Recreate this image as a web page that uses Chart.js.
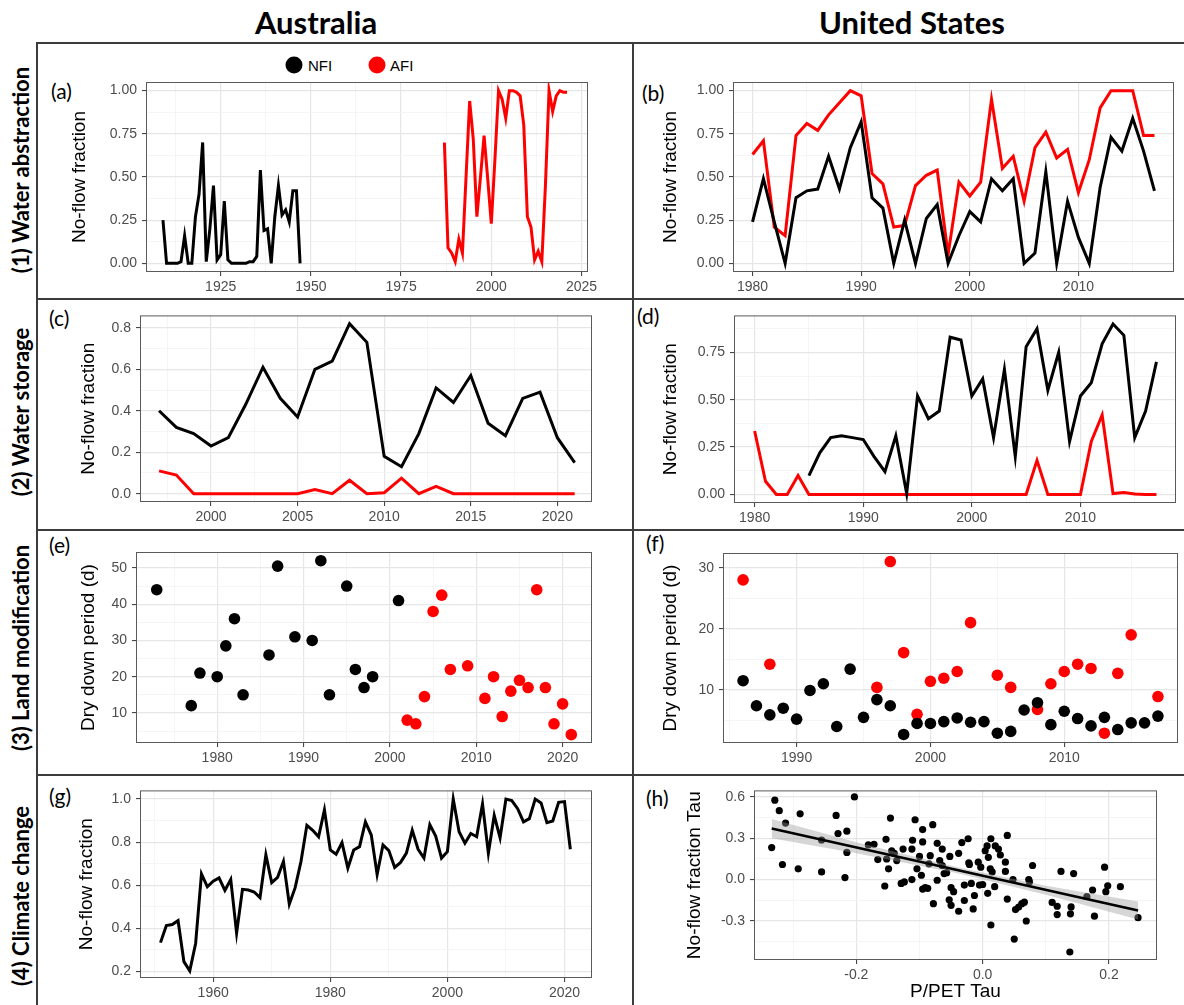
<!DOCTYPE html>
<html>
<head>
<meta charset="utf-8">
<title>No-flow fraction</title>
<script src="https://cdn.jsdelivr.net/npm/chart.js@4.4.0/dist/chart.umd.min.js"></script>
<style>
    body {
        margin: 0;
        background: #ffffff;
        width: 1184px;
        height: 1005px;
        overflow: hidden;
        position: relative;
        font-family: 'Liberation Sans', Arial, sans-serif;
    }
    .abs { position: absolute; white-space: nowrap; }
    canvas { position: absolute; }
    .col-title { font-family: Lato, 'Open Sans', sans-serif; font-weight: 700; font-size: 31px; line-height: 31px; top: 7px; transform: translateX(-50%); }
    .row-label { font-family: Lato, 'Open Sans', sans-serif; font-weight: 700; font-size: 22px; line-height: 22px; transform: translate(-50%, -50%) rotate(-90deg); }
    .tag { font-family: Lato, 'Open Sans', sans-serif; font-size: 21px; line-height: 21px; transform: translateY(-50%); }
    .rule { background: #3c3c3c; }
    .dot { width: 17px; height: 17px; border-radius: 50%; transform: translate(-50%, -50%); }
    .key { font-size: 15px; line-height: 15px; transform: translateY(-50%); }
</style>
</head>
<body>

<div class="abs col-title" style="left:316px">Australia</div>
<div class="abs col-title" style="left:912px">United States</div>

<div class="abs rule" style="left:37px;top:42px;width:1147px;height:2px"></div>
<div class="abs rule" style="left:36px;top:42px;width:2px;height:963px"></div>
<div class="abs rule" style="left:632px;top:42px;width:2px;height:963px"></div>
<div class="abs rule" style="left:37px;top:298px;width:1147px;height:2px"></div>
<div class="abs rule" style="left:37px;top:529px;width:1147px;height:2px"></div>
<div class="abs rule" style="left:37px;top:774px;width:1147px;height:2px"></div>

<div class="abs row-label" style="left:21px;top:170px">(1) Water abstraction</div>
<div class="abs row-label" style="left:21px;top:412px">(2) Water storage</div>
<div class="abs row-label" style="left:21px;top:648px">(3) Land modification</div>
<div class="abs row-label" style="left:21px;top:896px">(4) Climate change</div>

<div class="abs tag" style="left:51px;top:90px">(a)</div>
<div class="abs tag" style="left:642px;top:92px">(b)</div>
<div class="abs tag" style="left:49px;top:317px">(c)</div>
<div class="abs tag" style="left:637px;top:315px">(d)</div>
<div class="abs tag" style="left:49px;top:544px">(e)</div>
<div class="abs tag" style="left:646px;top:542px">(f)</div>
<div class="abs tag" style="left:49px;top:795px">(g)</div>
<div class="abs tag" style="left:646px;top:797px">(h)</div>

<div class="abs dot" style="left:294px;top:65px;background:#000000"></div>
<div class="abs key" style="left:308px;top:65px">NFI</div>
<div class="abs dot" style="left:377px;top:65px;background:#ff0000"></div>
<div class="abs key" style="left:390px;top:65px">AFI</div>

<script>
// couleurs des séries
const colors = {
    nfi: '#000000',
    afi: '#ff0000',
    band: 'rgba(153,153,153,0.4)',
    frame: '#5a5a5a',
    gridMajor: '#e6e6e6',
    gridMinor: '#f3f3f3',
    tick: '#4d4d4d'
};

function range(a, b) {
    const out = [];
    for (let v = a; v <= b; v++) out.push(v);
    return out;
}

// (a) Australia - water abstraction
const aYearsNFI = range(1909, 1947);
const aNFI = [0.25, 0.00, 0.00, 0.00, 0.00, 0.01, 0.16, 0.00, 0.00, 0.27,
              0.40, 0.70, 0.01, 0.20, 0.45, 0.02, 0.05, 0.36, 0.02, 0.00,
              0.00, 0.00, 0.00, 0.00, 0.01, 0.01, 0.04, 0.54, 0.19, 0.20,
              0.00, 0.27, 0.45, 0.28, 0.31, 0.24, 0.42, 0.42, 0.00];
const aYearsAFI = range(1987, 2021);
const aAFI = [0.70, 0.09, 0.06, 0.01, 0.14, 0.06, 0.50, 0.94, 0.72, 0.27,
              0.50, 0.74, 0.49, 0.23, 0.60, 1.00, 0.95, 0.84, 1.00, 1.00,
              0.99, 0.97, 0.80, 0.27, 0.21, 0.02, 0.07, 0.01, 0.45, 1.00,
              0.88, 0.97, 1.00, 0.99, 0.99];
const aXTicks = [1925, 1950, 1975, 2000, 2025];
const fracTicks = [0, 0.25, 0.5, 0.75, 1];

// (b) United States - water abstraction
const bYears = range(1980, 2017);
const bNFI = [0.24, 0.49, 0.24, 0.00, 0.38, 0.42, 0.43, 0.62, 0.43, 0.67,
              0.82, 0.38, 0.32, 0.00, 0.25, 0.00, 0.26, 0.34, 0.00, 0.16,
              0.30, 0.24, 0.49, 0.42, 0.49, 0.00, 0.06, 0.53, 0.00, 0.36,
              0.15, 0.00, 0.44, 0.73, 0.65, 0.84, 0.65, 0.42];
const bAFI = [0.63, 0.71, 0.21, 0.16, 0.74, 0.81, 0.77, 0.86, 0.93, 1.00,
              0.97, 0.52, 0.46, 0.21, 0.22, 0.45, 0.51, 0.54, 0.05, 0.47,
              0.39, 0.47, 0.95, 0.55, 0.62, 0.36, 0.67, 0.76, 0.61, 0.66,
              0.41, 0.60, 0.90, 1.00, 1.00, 1.00, 0.74, 0.74];
const usXTicks = [1980, 1990, 2000, 2010];

// (c) Australia - water storage
const cYears = range(1997, 2021);
const cNFI = [0.40, 0.32, 0.29, 0.23, 0.27, 0.43, 0.61, 0.46, 0.37, 0.60,
              0.64, 0.82, 0.73, 0.18, 0.13, 0.29, 0.51, 0.44, 0.57, 0.34,
              0.28, 0.46, 0.49, 0.27, 0.15];
const cAFI = [0.11, 0.09, 0.00, 0.00, 0.00, 0.00, 0.00, 0.00, 0.00, 0.02,
              0.00, 0.065, 0.00, 0.005, 0.075, 0.00, 0.035, 0.00, 0.00, 0.00,
              0.00, 0.00, 0.00, 0.00, 0.00];
const cXTicks = [2000, 2005, 2010, 2015, 2020];
const cYTicks = [0, 0.2, 0.4, 0.6, 0.8];

// (d) United States - water storage
const dYearsNFI = range(1985, 2017);
const dNFI = [0.10, 0.22, 0.30, 0.31, 0.30, 0.29, 0.20, 0.12, 0.31, 0.005,
              0.52, 0.40, 0.44, 0.83, 0.815, 0.52, 0.61, 0.30, 0.66, 0.20,
              0.78, 0.875, 0.55, 0.75, 0.28, 0.52, 0.59, 0.795, 0.90, 0.84,
              0.30, 0.44, 0.70];
const dYearsAFI = range(1980, 2017);
const dAFI = [0.335, 0.07, 0.00, 0.00, 0.10, 0.00, 0.00, 0.00, 0.00, 0.00,
              0.00, 0.00, 0.00, 0.00, 0.00, 0.00, 0.00, 0.00, 0.00, 0.00,
              0.00, 0.00, 0.00, 0.00, 0.00, 0.00, 0.18, 0.00, 0.00, 0.00,
              0.00, 0.28, 0.42, 0.005, 0.01, 0.003, 0.00, 0.00];
const dYTicks = [0, 0.25, 0.5, 0.75];

// (e) Australia - land modification
const eYearsNFI = [1973, 1977, 1978, 1980, 1981, 1982, 1983, 1986, 1987, 1989,
                   1991, 1992, 1993, 1995, 1996, 1997, 1998, 2001];
const eNFI = [44, 12, 21, 20, 28.5, 36, 15, 26, 50.5, 31,
              30, 52, 15, 45, 22, 17, 20, 41];
const eYearsAFI = [2002, 2003, 2004, 2005, 2006, 2007, 2009, 2011, 2012, 2013,
                   2014, 2015, 2016, 2017, 2018, 2019, 2020, 2021];
const eAFI = [8, 7, 14.5, 38, 42.5, 22, 23, 14, 20, 9,
              16, 19, 17, 44, 17, 7, 12.5, 4];
const eXTicks = [1980, 1990, 2000, 2010, 2020];
const eYTicks = [10, 20, 30, 40, 50];

// (f) United States - land modification
const fYearsNFI = range(1986, 2017);
const fNFI = [11.5, 7.4, 5.9, 7.0, 5.2, 9.9, 11.0, 4.0, 13.4, 5.5,
              8.4, 7.4, 2.7, 4.5, 4.5, 4.8, 5.4, 4.7, 4.8, 2.9,
              3.2, 6.7, 7.9, 4.3, 6.5, 5.3, 4.1, 5.5, 3.5, 4.6,
              4.6, 5.7];
const fYearsAFI = [1986, 1988, 1996, 1997, 1998, 1999, 2000, 2001, 2002, 2003,
                   2005, 2006, 2008, 2009, 2010, 2011, 2012, 2013, 2014, 2015, 2017];
const fAFI = [28.0, 14.2, 10.4, 31.0, 16.1, 6.0, 11.4, 11.9, 13.0, 21.0,
              12.4, 10.4, 6.8, 11.0, 13.0, 14.2, 13.5, 2.9, 12.7, 19.0, 8.9];
const fXTicks = [1990, 2000, 2010];
const fYTicks = [10, 20, 30];

// (g) Australia - climate change
const gYears = range(1951, 2021);
const gNFI = [0.334, 0.413, 0.418, 0.436, 0.246, 0.203, 0.330, 0.653, 0.593, 0.619,
              0.634, 0.576, 0.627, 0.378, 0.581, 0.578, 0.569, 0.543, 0.741, 0.612,
              0.637, 0.711, 0.512, 0.589, 0.711, 0.878, 0.855, 0.825, 0.950, 0.764,
              0.744, 0.798, 0.680, 0.764, 0.779, 0.894, 0.833, 0.650, 0.787, 0.761,
              0.683, 0.706, 0.749, 0.855, 0.767, 0.726, 0.881, 0.828, 0.726, 0.756,
              1.000, 0.848, 0.795, 0.840, 0.825, 0.977, 0.749, 0.924, 0.820, 1.000,
              0.993, 0.955, 0.894, 0.909, 1.000, 0.982, 0.890, 0.898, 0.985, 0.988,
              0.767];
const gXTicks = [1960, 1980, 2000, 2020];
const gYTicks = [0.2, 0.4, 0.6, 0.8, 1.0];

// (h) United States - climate change (P/PET Tau vs no-flow fraction Tau)
const hX = [-0.329, -0.322, -0.312, -0.334, -0.317, -0.289, -0.292, -0.255, -0.255, -0.232,
            -0.229, -0.215, -0.215, -0.218, -0.203, -0.181, -0.172, -0.166, -0.153, -0.146,
            -0.149, -0.152, -0.155, -0.144, -0.140, -0.136, -0.126, -0.129, -0.124, -0.112,
            -0.111, -0.107, -0.112, -0.104, -0.100, -0.095, -0.095, -0.097, -0.095, -0.091,
            -0.087, -0.085, -0.083, -0.079, -0.078, -0.072, -0.072, -0.068, -0.064, -0.064,
            -0.061, -0.057, -0.052, -0.050, -0.046, -0.053, -0.050, -0.038, -0.038, -0.033,
            -0.029, -0.029, -0.023, -0.022, -0.021, -0.015, -0.018, -0.013, -0.007, -0.005,
            -0.003, 0.000, 0.004, 0.007, 0.008, 0.009, 0.013, 0.012, 0.015, 0.013,
            0.019, 0.020, 0.025, 0.028, 0.036, 0.036, 0.039, 0.039, 0.048, 0.050,
            0.052, 0.057, 0.062, 0.066, 0.069, 0.073, 0.074, 0.079, 0.110, 0.118,
            0.118, 0.124, 0.138, 0.139, 0.140, 0.144, 0.165, 0.174, 0.177, 0.193,
            0.195, 0.198, 0.218, 0.246];
const hY = [0.576, 0.500, 0.410, 0.232, 0.109, 0.477, 0.078, 0.287, 0.055, 0.465,
            0.334, 0.351, 0.197, 0.014, 0.600, 0.251, 0.256, 0.145, 0.292, 0.446,
            0.078, 0.149, -0.047, 0.209, 0.190, 0.138, 0.221, -0.028, -0.017, 0.221,
            0.285, 0.434, 0.000, 0.078, 0.168, 0.363, 0.273, 0.031, -0.069, -0.059,
            -0.064, 0.114, 0.173, 0.398, -0.175, 0.263, -0.005, 0.138, 0.221, 0.102,
            0.043, 0.050, 0.168, -0.059, -0.088, -0.147, -0.187, -0.230, 0.190, 0.268,
            -0.040, -0.152, 0.296, 0.121, 0.109, -0.213, -0.028, -0.116, 0.126, -0.040,
            0.090, -0.036, 0.209, 0.244, -0.100, 0.161, 0.296, 0.078, 0.055, -0.330,
            -0.052, 0.244, 0.221, 0.178, 0.126, 0.059, 0.320, -0.142, 0.000, -0.432,
            -0.218, -0.200, -0.175, -0.164, -0.301, 0.000, -0.017, 0.102, -0.166, -0.194,
            -0.254, 0.059, -0.526, -0.249, -0.199, 0.043, -0.123, -0.076, -0.266, 0.090,
            -0.088, -0.045, -0.052, -0.277];
const hFitX = [-0.334, 0.246];
const hFitY = [0.370, -0.225];
const hBandX = [-0.334, -0.200, -0.040, 0.100, 0.246];
const hBandUpper = [0.440, 0.270, 0.090, -0.045, -0.160];
const hBandLower = [0.300, 0.190, 0.045, -0.110, -0.290];
const hXTicks = [-0.2, 0, 0.2];
const hYTicks = [-0.3, 0, 0.3, 0.6];

// ---------------------------------------------------------------

Chart.defaults.font.family = "'Liberation Sans', Arial, sans-serif";
Chart.defaults.font.size = 14;

function pts(xs, ys) {
    return xs.map((x, i) => ({ x: x, y: ys[i] }));
}

function lineSet(xs, ys, color, width) {
    return {
        data: pts(xs, ys),
        borderColor: color,
        borderWidth: width === undefined ? 3 : width,
        pointRadius: 0,
        fill: false,
        tension: 0
    };
}

function dotSet(xs, ys, color, r) {
    return {
        data: pts(xs, ys),
        showLine: false,
        pointRadius: r,
        pointBackgroundColor: color,
        pointBorderWidth: 0,
        borderColor: color
    };
}

// grille mineure à mi-chemin entre les graduations principales (façon ggplot)
function withMinor(major, min, max) {
    const step = major[1] - major[0];
    const out = major.filter(v => v >= min && v <= max).map(v => ({ value: v }));
    for (let v = major[0] - step / 2; v <= max; v += step) {
        if (v >= min) out.push({ value: v, minor: true });
    }
    return out.sort((a, b) => a.value - b.value);
}

const titleLine = 19 * 1.2;

function axis(ax, pos, size, titleText, titleOffset) {
    const vertical = pos === 'left';
    const isMinor = c => !!(c.tick && c.tick.minor);
    return {
        type: 'linear',
        position: pos,
        min: ax.min,
        max: ax.max,
        afterBuildTicks: s => { s.ticks = withMinor(ax.ticks, ax.min, ax.max); },
        afterFit: s => { if (vertical) s.width = size; else s.height = size; },
        ticks: {
            autoSkip: false,
            maxRotation: 0,
            padding: vertical ? 5 : 3,
            color: colors.tick,
            font: { size: 14 },
            callback: (v, i, t) => (t[i] && t[i].minor) ? '' : Number(v).toFixed(ax.dec)
        },
        grid: {
            color: c => isMinor(c) ? colors.gridMinor : colors.gridMajor,
            lineWidth: c => isMinor(c) ? 0.8 : 1.2,
            tickColor: c => isMinor(c) ? 'rgba(0,0,0,0)' : '#333333',
            tickLength: 4,
            tickWidth: 1,
            drawTicks: true
        },
        border: { display: false },
        title: titleText ? {
            display: true,
            text: titleText,
            color: '#000000',
            font: { size: 19 },
            padding: vertical ? { top: titleOffset - titleLine / 2, bottom: 0 }
                              : { top: 0, bottom: titleOffset - titleLine / 2 }
        } : { display: false }
    };
}

// cadre du panneau, dessiné au-dessus des données
const framePlugin = {
    id: 'frame',
    afterDatasetsDraw(chart) {
        const { ctx, chartArea } = chart;
        ctx.save();
        ctx.strokeStyle = colors.frame;
        ctx.lineWidth = 1;
        ctx.strokeRect(chartArea.left + 0.5, chartArea.top + 0.5,
                       chartArea.right - chartArea.left - 1, chartArea.bottom - chartArea.top - 1);
        ctx.restore();
    }
};

const panels = [
    {   // (a)
        box: [39, 45, 632, 298], area: [146, 82, 588, 272],
        x: { min: 1904.3, max: 2026.8, ticks: aXTicks, dec: 0 },
        y: { min: -0.05, max: 1.05, ticks: fracTicks, dec: 2 },
        yTitle: 'No-flow fraction', yTitleX: 80,
        datasets: [lineSet(aYearsNFI, aNFI, colors.nfi), lineSet(aYearsAFI, aAFI, colors.afi)]
    },
    {   // (b)
        box: [636, 45, 1184, 298], area: [733, 82, 1174, 272],
        x: { min: 1978.2, max: 2018.8, ticks: usXTicks, dec: 0 },
        y: { min: -0.05, max: 1.05, ticks: fracTicks, dec: 2 },
        yTitle: 'No-flow fraction', yTitleX: 671,
        datasets: [lineSet(bYears, bNFI, colors.nfi), lineSet(bYears, bAFI, colors.afi)]
    },
    {   // (c)
        box: [39, 302, 632, 528], area: [140, 312, 592, 502],
        x: { min: 1995.9, max: 2022.0, ticks: cXTicks, dec: 0 },
        y: { min: -0.04, max: 0.86, ticks: cYTicks, dec: 1 },
        yTitle: 'No-flow fraction', yTitleX: 89,
        datasets: [lineSet(cYears, cNFI, colors.nfi), lineSet(cYears, cAFI, colors.afi)]
    },
    {   // (d)
        box: [636, 302, 1184, 528], area: [734, 313, 1176, 503],
        x: { min: 1978.1, max: 2018.8, ticks: usXTicks, dec: 0 },
        y: { min: -0.045, max: 0.945, ticks: dYTicks, dec: 2 },
        yTitle: 'No-flow fraction', yTitleX: 671,
        datasets: [lineSet(dYearsNFI, dNFI, colors.nfi), lineSet(dYearsAFI, dAFI, colors.afi)]
    },
    {   // (e)
        box: [39, 532, 632, 772], area: [136, 552, 592, 743],
        x: { min: 1970.6, max: 2023.4, ticks: eXTicks, dec: 0 },
        y: { min: 1.7, max: 54.4, ticks: eYTicks, dec: 0 },
        yTitle: 'Dry down period (d)', yTitleX: 89,
        datasets: [dotSet(eYearsNFI, eNFI, colors.nfi, 5.8), dotSet(eYearsAFI, eAFI, colors.afi, 5.8)]
    },
    {   // (f)
        box: [636, 532, 1184, 772], area: [723, 553, 1178, 743],
        x: { min: 1984.5, max: 2018.5, ticks: fXTicks, dec: 0 },
        y: { min: 1.3, max: 32.4, ticks: fYTicks, dec: 0 },
        yTitle: 'Dry down period (d)', yTitleX: 671,
        datasets: [dotSet(fYearsNFI, fNFI, colors.nfi, 5.8), dotSet(fYearsAFI, fAFI, colors.afi, 5.8)]
    },
    {   // (g)
        box: [39, 777, 632, 1005], area: [140, 788, 592, 978],
        x: { min: 1947.5, max: 2024.7, ticks: gXTicks, dec: 0 },
        y: { min: 0.17, max: 1.04, ticks: gYTicks, dec: 1 },
        yTitle: 'No-flow fraction', yTitleX: 87,
        datasets: [lineSet(gYears, gNFI, colors.nfi)]
    },
    {   // (h)
        box: [636, 777, 1184, 1005], area: [754, 787, 1157, 960],
        x: { min: -0.362, max: 0.276, ticks: hXTicks, dec: 1 },
        y: { min: -0.584, max: 0.647, ticks: hYTicks, dec: 1 },
        yTitle: 'No-flow fraction Tau', yTitleX: 695,
        xTitle: 'P/PET Tau', xTitleY: 992,
        datasets: [
            Object.assign(lineSet(hFitX, hFitY, colors.nfi, 2.5), { order: 1 }),
            Object.assign(lineSet(hBandX, hBandUpper, 'rgba(0,0,0,0)', 0),
                          { fill: '+1', backgroundColor: colors.band, order: 2 }),
            Object.assign(lineSet(hBandX, hBandLower, 'rgba(0,0,0,0)', 0), { order: 2 }),
            Object.assign(dotSet(hX, hY, colors.nfi, 3.6), { order: 3 })
        ]
    }
];

panels.forEach(p => {
    const [bl, bt, br, bb] = p.box;
    const [al, at, ar, ab] = p.area;
    const cv = document.createElement('canvas');
    cv.width = br - bl;
    cv.height = bb - bt;
    cv.style.left = bl + 'px';
    cv.style.top = bt + 'px';
    cv.style.width = (br - bl) + 'px';
    cv.style.height = (bb - bt) + 'px';
    document.body.appendChild(cv);

    new Chart(cv, {
        type: 'line',
        data: { datasets: p.datasets },
        options: {
            responsive: false,
            animation: false,
            devicePixelRatio: 1,
            events: [],
            layout: { padding: { top: at - bt, right: br - ar, left: 0, bottom: 0 } },
            plugins: {
                legend: { display: false },
                tooltip: { enabled: false }
            },
            scales: {
                x: axis(p.x, 'bottom', bb - ab, p.xTitle, p.xTitle ? bb - p.xTitleY : 0),
                y: axis(p.y, 'left', al - bl, p.yTitle, p.yTitleX - bl)
            }
        },
        plugins: [framePlugin]
    });
});
</script>
</body>
</html>
